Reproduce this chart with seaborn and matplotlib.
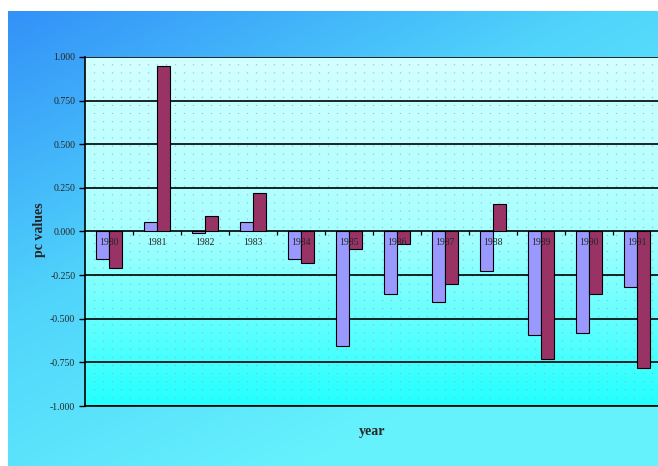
import numpy as np
import pandas as pd
import matplotlib
matplotlib.use("Agg")
import matplotlib.pyplot as plt
from matplotlib.colors import LinearSegmentedColormap
import seaborn as sns

years = ["1980", "1981", "1982", "1983", "1984", "1985", "1986", "1987", "1988", "1989", "1990", "1991"]
series_a = [-0.155, 0.057, -0.01, 0.057, -0.16, -0.655, -0.36, -0.405, -0.225, -0.595, -0.58, -0.32]
series_b = [-0.21, 0.95, 0.09, 0.22, -0.18, -0.10, -0.07, -0.30, 0.16, -0.73, -0.36, -0.78]
series_names = ["A", "B"]
yticks = [1.0, 0.75, 0.5, 0.25, 0.0, -0.25, -0.5, -0.75, -1.0]

df = pd.DataFrame({
    "year": years * 2,
    "value": series_a + series_b,
    "series": [series_names[0]] * len(years) + [series_names[1]] * len(years),
})

sns.set_style("white")
plt.rcParams["font.family"] = ["Liberation Serif", "DejaVu Serif"]

W, H = 658, 466
fig = plt.figure(figsize=(W / 100, H / 100), dpi=100)
fig.patch.set_facecolor("white")

# Outer gradient background
bg = fig.add_axes([8 / W, 0, 650 / W, 455 / H], zorder=0)
xx, yy = np.meshgrid(np.linspace(0, 1, 200), np.linspace(0, 1, 200))
t = np.clip(0.55 * xx + 0.75 * yy, 0, 1)
cm_bg = LinearSegmentedColormap.from_list("bg", ["#3391f8", "#50d4fb", "#66f2fd"])
bg.imshow(t, cmap=cm_bg, aspect="auto", extent=[0, 1, 0, 1], origin="upper")
bg.axis("off")

ax = fig.add_axes([85 / W, 60 / H, 576 / W, 349 / H], zorder=2)
ax.set_xlim(-0.5, 11.5)
ax.set_ylim(-1.0, 1.0)

# Plot area gradient
cm_pa = LinearSegmentedColormap.from_list("pa", ["#d4ffff", "#a8ffff", "#22ffff"])
grad = np.linspace(0, 1, 256).reshape(-1, 1)
ax.imshow(grad, cmap=cm_pa, aspect="auto", extent=[-0.5, 11.5, -1.0, 1.0],
          origin="upper", zorder=0)

# dotted pattern
xs = np.arange(-0.5, 11.5, 9 / 48)
ax.vlines(xs[1:], -1, 1, colors="#8fb0b0", linewidth=0.9,
          linestyles=(0, (0.7, 5.8)), zorder=0.5)

for y in yticks:
    ax.axhline(y, color="black", linewidth=1.2, zorder=1)

sns.barplot(data=df, x="year", y="value", hue="series",
            palette=["#9999ff", "#993366"], saturation=1, width=0.56, dodge=True,
            edgecolor="black", linewidth=0.8, ax=ax, legend=False, zorder=2)
ax.set_xlim(-0.5, 11.5)
ax.set_ylim(-1.0, 1.0)

# category ticks along zero line
ax.vlines(np.arange(len(years))[1:] - 0.5, -0.018, 0, colors="black", linewidth=0.9, zorder=3)

for i, yr in enumerate(years):
    ax.text(i, -0.065, yr, ha="center", va="center", fontsize=7, zorder=4)

ax.set_xticks([])
ax.set_yticks(yticks)
ax.set_yticklabels([f"{v:.3f}" for v in yticks], fontsize=7)
ax.tick_params(axis="y", length=4, width=1, color="black", pad=3, direction="out", left=True)
for s in ["top", "right"]:
    ax.spines[s].set_visible(False)
for s in ["left", "bottom"]:
    ax.spines[s].set_color("black")
    ax.spines[s].set_linewidth(1.2)

ax.set_xlabel("")
ax.set_ylabel("")
fig.text(372 / W, 1 - 431 / H, "year", ha="center", va="center", fontsize=10, fontweight="bold")
fig.text(40 / W, 1 - 230 / H, "pc values", ha="center", va="center", fontsize=10,
         fontweight="bold", rotation=90)

fig.savefig("out.png", dpi=100, facecolor=fig.get_facecolor())
